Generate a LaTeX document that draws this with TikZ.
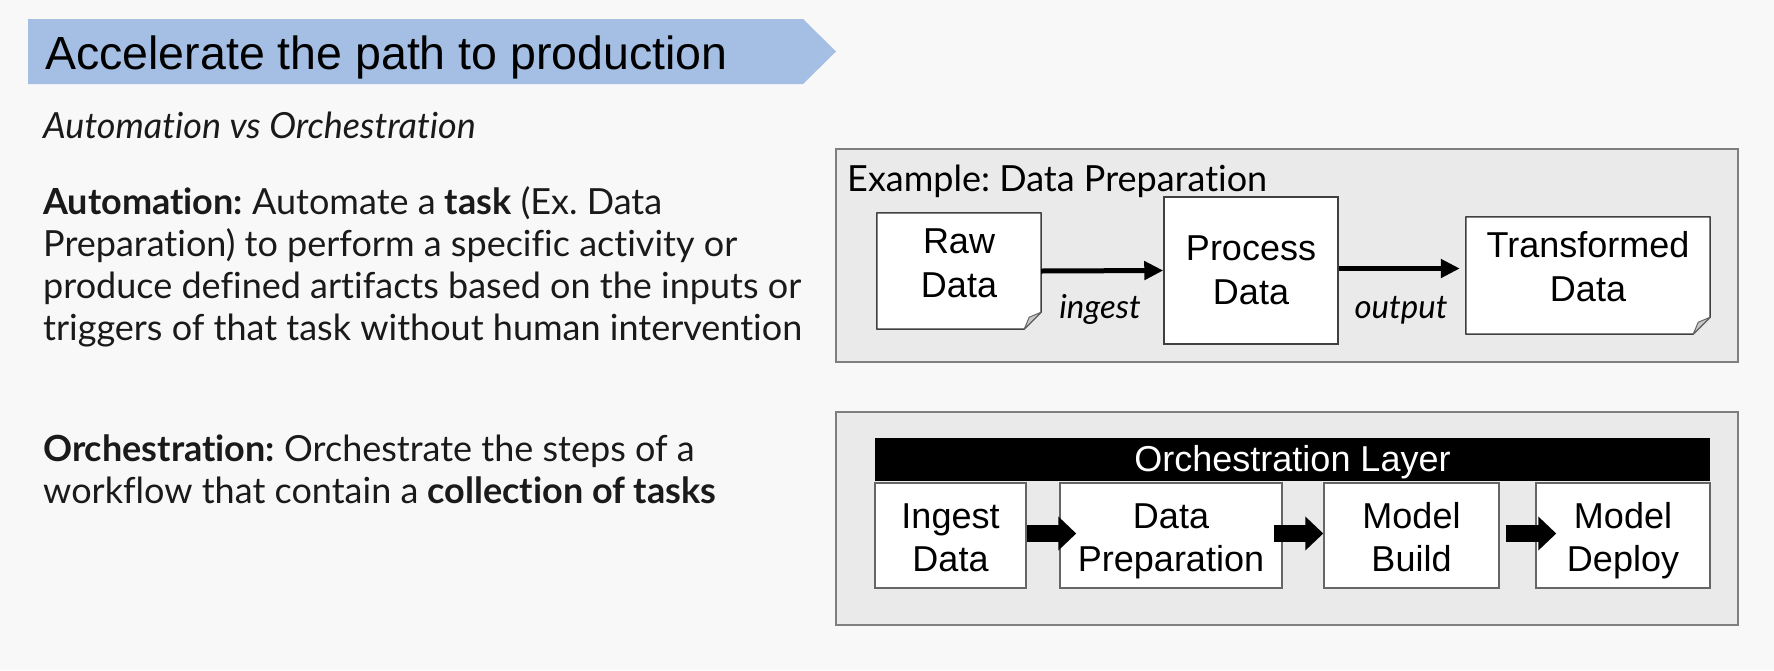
\documentclass[tikz,border=0pt]{standalone}
\usepackage{fontspec}
\setmainfont[Ligatures=NoCommon]{Lato}
\newfontfamily\arialfont{Liberation Sans}
\usetikzlibrary{arrows.meta,calc}
\definecolor{bgc}{HTML}{F8F8F8}
\definecolor{banner}{HTML}{A5BFE4}
\definecolor{panel}{HTML}{EAEAEA}
\definecolor{panelline}{HTML}{7F7F7F}
\definecolor{txt}{HTML}{1A1A1A}
\definecolor{foldc}{HTML}{C8C8C8}
\frenchspacing
\begin{document}
\frenchspacing
\begin{tikzpicture}[x=1pt,y=-1pt,
  body/.style={anchor=base west, inner sep=0pt, text=txt, font=\fontsize{36}{42}\selectfont},
  panelbox/.style={draw=panelline, line width=2pt, fill=panel, inner sep=0pt},
  whitebox/.style={draw=black!75, line width=1.5pt, fill=white, inner sep=0pt},
  shapeonly/.style={draw=none, fill=none, inner sep=0pt},
  dtext/.style={align=center, inner sep=0pt, font=\arialfont\fontsize{36}{44}\selectfont},
  otext/.style={align=center, inner sep=0pt, yshift=-6pt, font=\arialfont\fontsize{36}{43}\selectfont},
  thinarrow/.style={line width=5pt, -{Triangle[length=19pt,width=18pt]}},
  blockarrow/.style={line width=17pt, -{Triangle[length=18pt,width=33pt]}},
  lbl/.style={anchor=base, inner sep=0pt, font=\itshape\fontsize{33}{36}\selectfont}
]
\useasboundingbox (0,0) rectangle (1774,670);
\fill[bgc] (0,0) rectangle (1774,670);

% title banner
\fill[banner] (28,19) -- (803,19) -- (836,51.5) -- (803,84) -- (28,84) -- cycle;
\node[anchor=base west, inner sep=0pt, font=\arialfont\fontsize{46.5}{50}\selectfont] (title) at (45,69) {Accelerate the path to production};

\node[body, font=\itshape\fontsize{36}{42}\selectfont] (sub) at (43,138) {Automation vs Orchestration};

\node[body] (a1) at (43,214) {\textbf{Automation:} Automate a \textbf{task} (Ex. Data};
\node[body] (a2) at (43,256) {Preparation) to perform a specific activity or};
\node[body] (a3) at (43,298) {produce defined artifacts based on the inputs or};
\node[body] (a4) at (43,340) {triggers of that task without human intervention};
\node[body] (o1) at (43,461) {\textbf{Orchestration:} Orchestrate the steps of a};
\node[body] (o2) at (43,503) {workflow that contain a \textbf{collection of tasks}};

% automation panel
\node[panelbox, minimum width=902pt, minimum height=213pt] (apanel) at (1287,255.5) {};
\node[anchor=base west, inner sep=0pt, font=\fontsize{36}{40}\selectfont] (ex) at (847,191) {Example: Data Preparation};

\node[shapeonly, minimum width=164pt, minimum height=116pt] (raw) at (959,271) {};
\node[whitebox, minimum width=174pt, minimum height=147pt] (proc) at (1251,270.5) {};
\node[shapeonly, minimum width=244pt, minimum height=117pt] (trans) at (1588,275.5) {};

\foreach \n in {raw,trans}{
  \draw[draw=black!75, line width=1.5pt, fill=white, line join=round]
    (\n.north west) -- (\n.north east) -- ([yshift=17pt]\n.south east)
    -- ([xshift=-17pt]\n.south east) -- (\n.south west) -- cycle;
  \draw[draw=black!60, line width=1pt, fill=foldc, line join=round]
    ([xshift=-17pt]\n.south east) -- ([xshift=-12pt,yshift=12pt]\n.south east)
    -- ([yshift=17pt]\n.south east) -- cycle;
}

\node[dtext] at ([yshift=8pt]raw.center) {Raw\\Data};
\node[dtext] at (proc.center) {Process\\Data};
\node[dtext] at ([yshift=9pt]trans.center) {Transformed\\Data};

\draw[thinarrow] (raw.east) -- (proc.west);
\draw[thinarrow] ([yshift=2pt]proc.east) -- ([yshift=2pt,xshift=-6pt]proc.east -| trans.west);

\node[lbl] (ing) at (1100,318) {ingest};
\node[lbl] (out) at (1401,318) {output};

% orchestration panel
\node[panelbox, minimum width=902pt, minimum height=213pt] (opanel) at (1287,518.5) {};
\node[fill=black, inner sep=0pt, minimum width=835pt, minimum height=43pt] (bar) at (1292.5,459.5) {};
\node[text=white, inner sep=0pt, font=\arialfont\fontsize{36}{40}\selectfont] at ([yshift=-3pt]bar.center) {Orchestration Layer};

\node[whitebox, draw=black!60, minimum width=151pt, minimum height=105pt] (ingb) at (950.5,535.5) {};
\node[whitebox, draw=black!60, minimum width=222pt, minimum height=105pt] (prep) at (1171,535.5) {};
\node[whitebox, draw=black!60, minimum width=175pt, minimum height=105pt] (build) at (1411.5,535.5) {};
\node[whitebox, draw=black!60, minimum width=174pt, minimum height=105pt] (deploy) at (1623,535.5) {};

\node[otext] at (ingb.center) {\strut Ingest\\\strut Data};
\node[otext] at (prep.center) {\strut Data\\\strut Preparation};
\node[otext] at (build.center) {\strut Model\\\strut Build};
\node[otext] at (deploy.center) {\strut Model\\\strut Deploy};

\draw[blockarrow] ([yshift=2pt]ingb.east) -- ([yshift=2pt,xshift=17pt]ingb.east -| prep.west);
\draw[blockarrow] ([yshift=2pt,xshift=-9pt]prep.east) -- ([yshift=2pt]prep.east -| build.west);
\draw[blockarrow] ([yshift=2pt,xshift=6pt]build.east) -- ([yshift=2pt,xshift=21pt]build.east -| deploy.west);
\end{tikzpicture}
\end{document}
